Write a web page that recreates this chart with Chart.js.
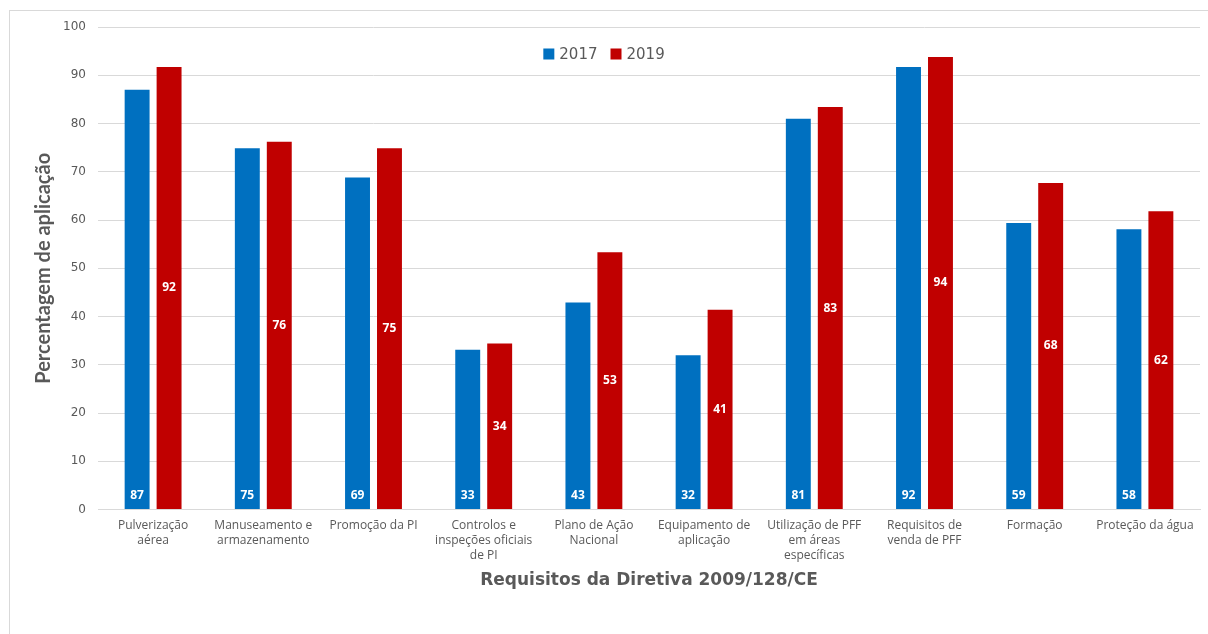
<!DOCTYPE html>
<html>
<head>
<meta charset="utf-8">
<script src="https://cdn.jsdelivr.net/npm/chart.js@4.4.1/dist/chart.umd.min.js"></script>
<style>
  html, body { margin: 0; padding: 0; background: #ffffff; overflow: hidden; }
  #frame { position: absolute; left: 9px; top: 10px; width: 1300px; height: 700px; border: 1px solid #d9d9d9; box-sizing: border-box; }
  #wrap { position: absolute; left: 0; top: 0; width: 1208px; height: 634px; }
</style>
</head>
<body>
<div id="frame"></div>
<div id="wrap"><canvas id="chart" width="1208" height="634"></canvas></div>
<script>
const categories = [
  ["Pulverização", "aérea"],
  ["Manuseamento e", "armazenamento"],
  ["Promoção da PI"],
  ["Controlos e", "inspeções oficiais", "de PI"],
  ["Plano de Ação", "Nacional"],
  ["Equipamento de", "aplicação"],
  ["Utilização de PFF", "em áreas", "específicas"],
  ["Requisitos de", "venda de PFF"],
  ["Formação"],
  ["Proteção da água"]
];
const seriesNames = ["2017", "2019"];
const values2017 = [87.0, 74.9, 68.8, 33.1, 42.9, 32.0, 81.0, 91.7, 59.4, 58.1];
const values2019 = [91.7, 76.2, 74.9, 34.4, 53.3, 41.4, 83.4, 93.8, 67.7, 61.8];
const yMin = 0, yMax = 100, yStep = 10;
const yTitle = "Percentagem de aplicação";
const xTitle = "Requisitos da Diretiva 2009/128/CE";

const textGray = "#595959";
const gridGray = "#d9d9d9";

const dataLabelPlugin = {
  id: "dataLabels",
  afterDatasetsDraw(chart) {
    const ctx = chart.ctx;
    ctx.save();
    ctx.font = "bold 12px 'Open Sans'";
    ctx.fillStyle = "#ffffff";
    ctx.textAlign = "center";
    ctx.textBaseline = "middle";
    chart.data.datasets.forEach((ds, di) => {
      const meta = chart.getDatasetMeta(di);
      meta.data.forEach((bar, i) => {
        const v = Math.round(ds.data[i]);
        let y;
        if (di === 0) y = bar.base - 14;
        else y = (bar.y + bar.base) / 2;
        ctx.fillText(String(v), bar.x, y);
      });
    });
    ctx.restore();
  }
};

const legendPlugin = {
  id: "innerLegend",
  afterDraw(chart) {
    const ctx = chart.ctx;
    const area = chart.chartArea;
    ctx.save();
    ctx.font = "15px 'DejaVu Sans'";
    ctx.textBaseline = "middle";
    ctx.textAlign = "left";
    const box = 11, gapBoxText = 5, gapItems = 13;
    const items = chart.data.datasets.map(ds => ({ label: ds.label, color: ds.backgroundColor }));
    let total = 0;
    items.forEach((it, i) => {
      it.w = box + gapBoxText + ctx.measureText(it.label).width;
      total += it.w + (i > 0 ? gapItems : 0);
    });
    let x = chart.width / 2 - total / 2;
    const cy = area.top + 27;
    items.forEach((it) => {
      ctx.fillStyle = it.color;
      ctx.fillRect(x, cy - box / 2, box, box);
      ctx.fillStyle = textGray;
      ctx.fillText(it.label, x + box + gapBoxText, cy + 1);
      x += it.w + gapItems;
    });
    ctx.restore();
  }
};

new Chart(document.getElementById("chart"), {
  type: "bar",
  data: {
    labels: categories,
    datasets: [
      { label: seriesNames[0], data: values2017, backgroundColor: "#0070C0", borderWidth: 0 },
      { label: seriesNames[1], data: values2019, backgroundColor: "#C00000", borderWidth: 0 }
    ]
  },
  options: {
    responsive: false,
    animation: false,
    devicePixelRatio: 1,
    categoryPercentage: 0.58,
    barPercentage: 0.78,
    layout: { padding: { left: 28, right: 8, top: 27, bottom: 41 } },
    plugins: {
      legend: { display: false },
      tooltip: { enabled: false }
    },
    scales: {
      x: {
        grid: { display: false, drawTicks: false },
        border: { display: true, color: gridGray, width: 1 },
        ticks: {
          color: textGray,
          font: { family: "'Open Sans'", size: 12, lineHeight: 1.25 },
          padding: 8,
          maxRotation: 0,
          autoSkip: false
        },
        title: {
          display: true,
          text: xTitle,
          color: textGray,
          font: { family: "'DejaVu Sans'", size: 17, weight: "bold" },
          padding: { top: 0, bottom: 2 }
        }
      },
      y: {
        min: yMin,
        max: yMax,
        afterFit(scale) { scale.width = 70; },
        grid: { color: gridGray, lineWidth: 1, drawTicks: false },
        border: { display: false },
        ticks: {
          stepSize: yStep,
          color: textGray,
          font: { family: "'DejaVu Sans'", size: 12 },
          padding: 12
        },
        title: {
          display: true,
          text: yTitle,
          color: textGray,
          font: { family: "Lato", size: 20, weight: "bold" },
          padding: { top: 4, bottom: 0 }
        }
      }
    }
  },
  plugins: [dataLabelPlugin, legendPlugin]
});
</script>
</body>
</html>
